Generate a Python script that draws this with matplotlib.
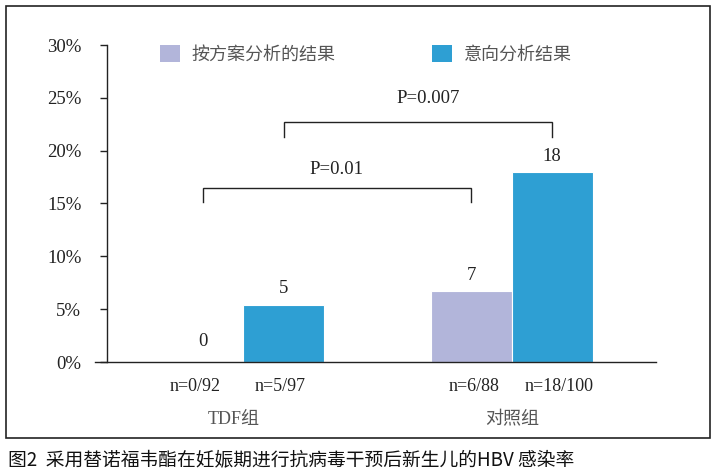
import matplotlib
matplotlib.use("Agg")
import matplotlib.pyplot as plt
from matplotlib.patches import Rectangle, Patch

# ---- data ----
groups = ["TDF组", "对照组"]
series_names = ["按方案分析的结果", "意向分析结果"]
pp_values = [0.0, 6.7]        # per-protocol infection rate (%)
itt_values = [5.4, 17.95]     # intention-to-treat infection rate (%)
pp_labels = ["0", "7"]
itt_labels = ["5", "18"]
pp_n = ["n=0/92", "n=6/88"]
itt_n = ["n=5/97", "n=18/100"]
y_ticks = [0, 5, 10, 15, 20, 25, 30]
p_texts = ["P=0.01", "P=0.007"]

pp_color = "#B2B5DA"
itt_color = "#2E9FD3"
serif = ["Liberation Serif", "Noto Sans CJK SC"]
cjk = ["Noto Sans CJK SC", "DejaVu Sans"]
plt.rcParams["font.family"] = serif

W, H = 718, 473
fig = plt.figure(figsize=(W / 100, H / 100), dpi=100)

def fx(px):
    return px / W

def fy(py):
    return 1 - py / H

u = 268.5  # pixels per group unit
ax = fig.add_axes([fx(95), fy(362), (656 - 95) / W, (362 - 45) / H])
ax.set_xlim((95 - 243) / u, (656 - 243) / u)
ax.set_ylim(0, 30)

w = 81 / u
x_groups = list(range(len(groups)))
x_pp = [g - w / 2 for g in x_groups]
x_itt = [g + w / 2 for g in x_groups]

ax.bar(x_pp, pp_values, width=w, color=pp_color, edgecolor="white", linewidth=0.8, label=series_names[0])
ax.bar(x_itt, itt_values, width=w, color=itt_color, edgecolor="white", linewidth=0.8, label=series_names[1])

# value labels
for x, v, s in zip(x_pp + x_itt, pp_values + itt_values, pp_labels + itt_labels):
    ax.text(x, max(v + 1.1, 1.5), s, ha="center", va="baseline",
            family=serif, fontsize=13.5, color="#222222")

# n labels
shifts_pp = [-0.027, 0.011]
shifts_itt = [-0.011, 0.027]
for x, s, d in zip(x_pp, pp_n, shifts_pp):
    ax.text(x + d, -2.35, s, ha="center", va="center", family=serif, fontsize=13, color="#222222")
for x, s, d in zip(x_itt, itt_n, shifts_itt):
    ax.text(x + d, -2.35, s, ha="center", va="center", family=serif, fontsize=13, color="#222222")

# group labels
for g, s, d in zip(x_groups, groups, [-0.033, 0.004]):
    ax.text(g + d, -5.45, s, ha="center", va="center", family=serif, fontsize=13, color="#555555")

# significance brackets
def bracket(x1, x2, ytop, ylow, text, tx, ty):
    ax.plot([x1, x1, x2, x2], [ylow, ytop, ytop, ylow], color="#222222", lw=1.0,
            solid_joinstyle="miter")
    ax.text(tx, ty, text, ha="center", va="center", family=serif, fontsize=13.5, color="#222222")

bracket(x_pp[0], x_pp[1], 16.44, 15.1, p_texts[0], (x_pp[0] + x_pp[1]) / 2, 18.2)
bracket(x_itt[0], x_itt[1], 22.68, 21.3, p_texts[1], (x_itt[0] + x_itt[1]) / 2 + 0.037, 24.9)

# axes styling
for sp in ["top", "right"]:
    ax.spines[sp].set_visible(False)
ax.spines["left"].set_position(("data", (107 - 243) / u))
ax.spines["left"].set_linewidth(1.0)
ax.spines["bottom"].set_linewidth(1.0)
ax.spines["left"].set_color("#222222")
ax.spines["bottom"].set_color("#222222")
ax.set_xticks([])
ax.set_yticks(y_ticks)
ax.set_yticklabels([f"{t}%" for t in y_ticks])
ax.tick_params(axis="y", direction="out", length=5, width=1.0, pad=13.5, color="#222222",
               labelsize=13.5, labelcolor="#222222")
for lab in ax.get_yticklabels():
    lab.set_family(serif)

# legend
handles = [Patch(facecolor=pp_color, edgecolor="none"), Patch(facecolor=itt_color, edgecolor="none")]
leg = fig.legend(handles, series_names, loc="center left", bbox_to_anchor=(fx(160), fy(54)),
                 ncol=2, frameon=False, borderpad=0, borderaxespad=0,
                 handlelength=1.1, handleheight=1.1, handletextpad=0.65, columnspacing=5.35,
                 prop={"family": cjk, "size": 13})
for t in leg.get_texts():
    t.set_color("#555555")

# outer frame
fig.add_artist(Rectangle((fx(6), fy(438)), (710 - 6) / W, (438 - 6) / H, transform=fig.transFigure,
                         fill=False, lw=1.2, ec="#222222"))

# caption
fig.text(fx(8), fy(461), "图2  采用替诺福韦酯在妊娠期进行抗病毒干预后新生儿的HBV 感染率",
         ha="left", va="center", family=cjk, fontsize=13.5, weight="medium", color="#111111")

fig.savefig("out.png", dpi=100)
